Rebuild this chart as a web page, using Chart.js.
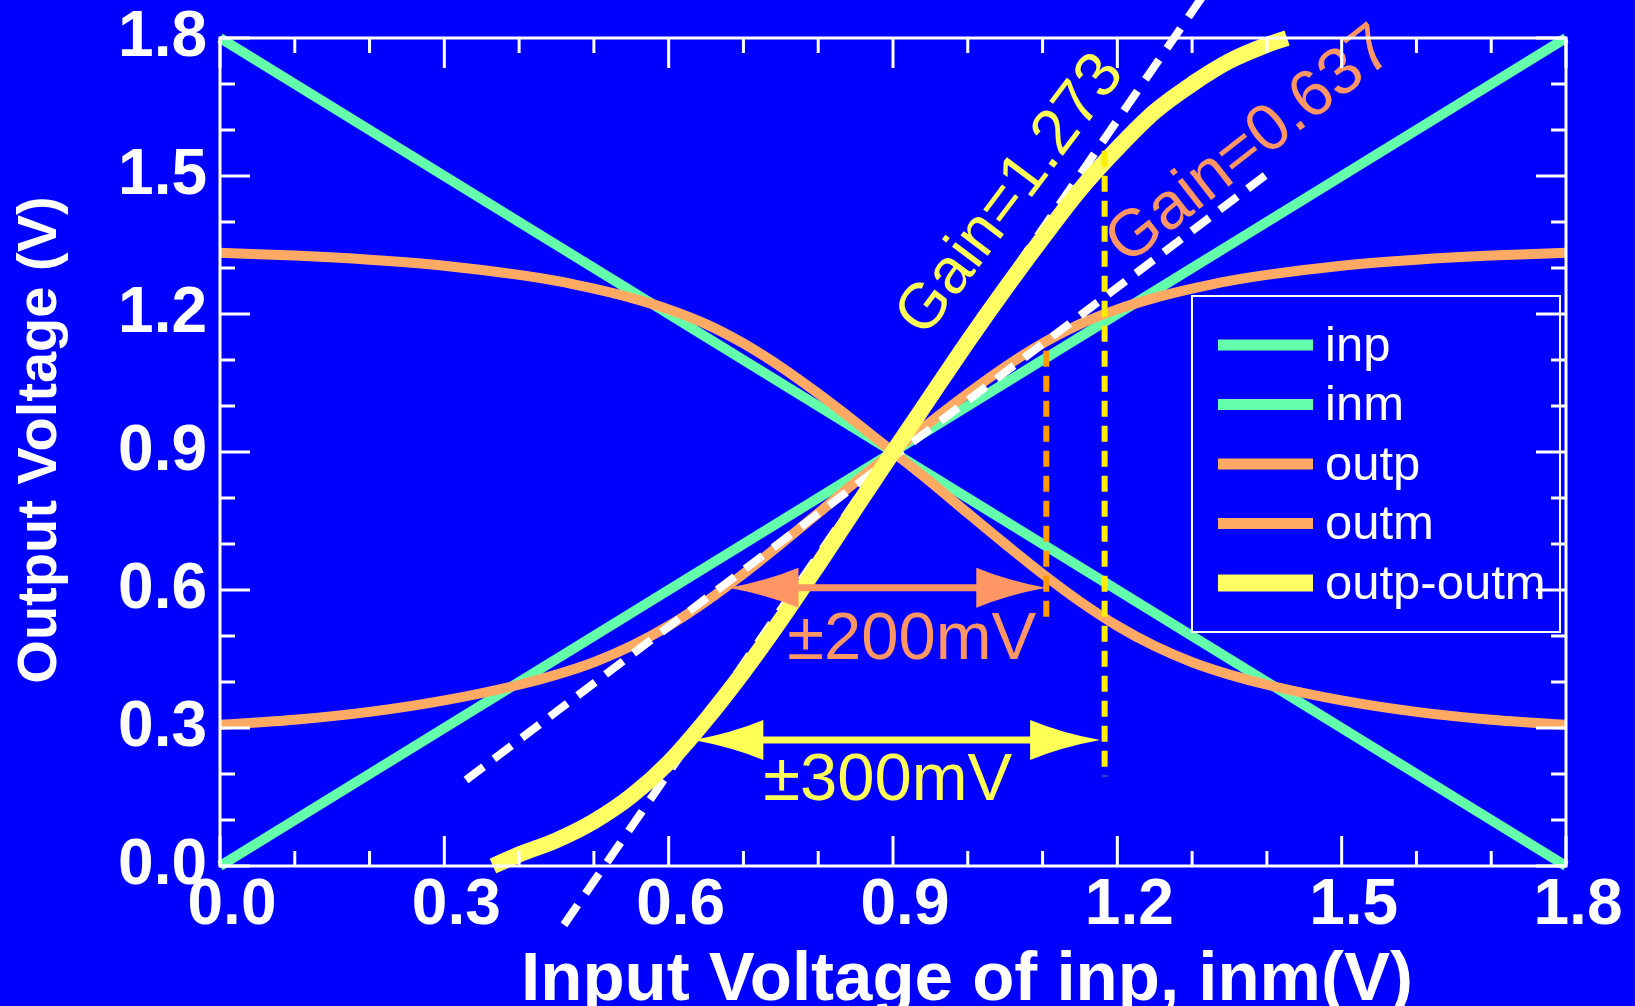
<!DOCTYPE html>
<html lang="en">
<head>
<meta charset="utf-8"/>
<script src="https://cdn.jsdelivr.net/npm/chart.js@4.4.1/dist/chart.umd.min.js"></script>
<style>
    html, body { margin: 0; padding: 0; background: #0000ff; }
    #wrap { width: 1635px; height: 1006px; }
</style>
</head>
<body>
<div id="wrap"><canvas id="chart"></canvas></div>
<script>
    // input sweep (V) and single ended outputs
    const vin  = [0, 0.1, 0.2, 0.3, 0.4, 0.45, 0.5, 0.55, 0.6, 0.65, 0.7, 0.75, 0.8, 0.85, 0.9,
                  0.95, 1.0, 1.05, 1.1, 1.15, 1.2, 1.25, 1.3, 1.35, 1.4, 1.5, 1.6, 1.7, 1.8];
    const outp = [0.307, 0.318, 0.335, 0.36, 0.394, 0.416, 0.443, 0.478, 0.522, 0.575, 0.635, 0.70, 0.767, 0.835, 0.9,
                  0.965, 1.027, 1.085, 1.136, 1.178, 1.21, 1.235, 1.255, 1.272, 1.285, 1.305, 1.318, 1.327, 1.333];
    const outm = [1.333, 1.327, 1.318, 1.305, 1.285, 1.272, 1.255, 1.235, 1.21, 1.178, 1.136, 1.085, 1.027, 0.965, 0.9,
                  0.835, 0.767, 0.70, 0.635, 0.575, 0.522, 0.478, 0.443, 0.416, 0.394, 0.36, 0.335, 0.318, 0.307];

    // straight inputs
    const vinEnds = [0, 1.8];
    const inp = [0, 1.8];
    const inm = [1.8, 0];

    // differential output (offset), only where it is inside the window
    const vinDiff = [0.365, 0.4, 0.45, 0.5, 0.55, 0.6, 0.65, 0.7, 0.75, 0.8, 0.85, 0.9, 0.95, 1.0, 1.05, 1.1, 1.15, 1.2, 1.25, 1.3, 1.35, 1.4, 1.427];
    const outDiff = [0.0, 0.025, 0.056, 0.097, 0.152, 0.225, 0.318, 0.422, 0.535, 0.655, 0.778, 0.9, 1.02, 1.14, 1.255, 1.365, 1.47, 1.56, 1.64, 1.70, 1.75, 1.785, 1.80];

    // tangent lines
    const steepX = [0.46, 1.318];
    const steepY = [-0.128, 1.9];
    const flatX = [0.329, 1.405];
    const flatY = [0.187, 1.51];

    // range markers
    const mark200X = [1.105, 1.105];
    const mark200Y = [1.12, 0.535];
    const mark300X = [1.183, 1.183];
    const mark300Y = [1.555, 0.195];
    const arrow200 = {x: [0.68, 1.105], y: 0.605};
    const arrow300 = {x: [0.633, 1.177], y: 0.274};

    const tickValues = [0, 0.3, 0.6, 0.9, 1.2, 1.5, 1.8];
    const minorValues = [0.1, 0.2, 0.4, 0.5, 0.7, 0.8, 1.0, 1.1, 1.3, 1.4, 1.6, 1.7];

    const xTitle = "Input Voltage of inp, inm(V)";
    const yTitle = "Output Voltage (V)";

    const notes = [
        {text: "Gain=1.273", x: 1.058, y: 1.458, rot: -53, color: "#ffff55", size: 64},
        {text: "Gain=0.637", x: 1.378, y: 1.565, rot: -38, color: "#ff9664", size: 66},
        {text: "\u00b1200mV", x: 0.925, y: 0.49, rot: 0, color: "#ff9664", size: 67},
        {text: "\u00b1300mV", x: 0.893, y: 0.183, rot: 0, color: "#ffff55", size: 67}
    ];

    const FONT = "'Liberation Sans', Arial, sans-serif";
    const GREEN = "#64ffaa", ORANGE = "#ffaa64", YELLOW = "#ffff64";

    function pts(xs, ys) {
        return xs.map((v, i) => ({x: v, y: ys[i]}));
    }

    function curve(label, xs, ys, color, width, order) {
        return {
            label: label, data: pts(xs, ys), borderColor: color, borderWidth: width,
            showLine: true, pointRadius: 0, cubicInterpolationMode: "monotone",
            clip: false, order: order, borderCapStyle: "butt"
        };
    }

    function dashed(xs, ys, color, width, dash, order) {
        return {
            label: "", data: pts(xs, ys), borderColor: color, borderWidth: width,
            borderDash: dash, showLine: true, pointRadius: 0, clip: false, order: order,
            legendSkip: true
        };
    }

    const datasets = [
        curve("inp", vinEnds, inp, GREEN, 10, 9),
        curve("inm", vinEnds, inm, GREEN, 10, 8),
        curve("outp", vin, outp, ORANGE, 10, 7),
        curve("outm", vin, outm, ORANGE, 10, 6),
        curve("outp-outm", vinDiff, outDiff, YELLOW, 16, 2),
        dashed(steepX, steepY, "#ffffff", 8, [24, 14], 4),
        dashed(flatX, flatY, "#ffffff", 8, [22, 13], 5),
        dashed(mark200X, mark200Y, "#ff9900", 6, [16, 9], 1),
        dashed(mark300X, mark300Y, "#ffee00", 6, [16, 9], 1)
    ];

    function arrowHead(ctx, tx, ty, dir, color) {
        // dir = +1 points right, -1 points left
        const len = 70, half = 20;
        ctx.fillStyle = color;
        ctx.beginPath();
        ctx.moveTo(tx, ty);
        ctx.quadraticCurveTo(tx - dir * len * 0.55, ty - half * 0.35, tx - dir * len, ty - half);
        ctx.lineTo(tx - dir * len, ty + half);
        ctx.quadraticCurveTo(tx - dir * len * 0.55, ty + half * 0.35, tx, ty);
        ctx.fill();
    }

    const decorations = {
        id: "decorations",
        beforeDraw(chart) {
            const ctx = chart.ctx;
            ctx.save();
            ctx.fillStyle = "#0000ff";
            ctx.fillRect(0, 0, chart.width, chart.height);
            ctx.restore();
        },
        afterDatasetsDraw(chart) {
            const {ctx, chartArea: a, scales: {x, y}} = chart;
            ctx.save();

            // double arrows
            [[arrow200, "#ff9664"], [arrow300, "#ffff55"]].forEach(([ar, col]) => {
                const x0 = x.getPixelForValue(ar.x[0]), x1 = x.getPixelForValue(ar.x[1]);
                const py = y.getPixelForValue(ar.y);
                ctx.strokeStyle = col;
                ctx.lineWidth = 7;
                ctx.beginPath();
                ctx.moveTo(x0 + 40, py);
                ctx.lineTo(x1 - 40, py);
                ctx.stroke();
                arrowHead(ctx, x0, py, -1, col);
                arrowHead(ctx, x1, py, 1, col);
            });

            // text notes
            notes.forEach(n => {
                ctx.save();
                ctx.translate(x.getPixelForValue(n.x), y.getPixelForValue(n.y));
                ctx.rotate(n.rot * Math.PI / 180);
                ctx.font = n.size + "px " + FONT;
                ctx.fillStyle = n.color;
                ctx.textAlign = "center";
                ctx.textBaseline = "middle";
                ctx.fillText(n.text, 0, 0);
                ctx.restore();
            });

            // legend box
            const bx = a.right - 374, by = a.top + 258, bw = 368, bh = 336;
            ctx.strokeStyle = "#ffffff";
            ctx.lineWidth = 2;
            ctx.strokeRect(bx, by, bw, bh);
            ctx.font = "49px " + FONT;
            ctx.textAlign = "left";
            ctx.textBaseline = "middle";
            chart.data.datasets.filter(d => !d.legendSkip).forEach((d, i) => {
                const ry = by + 49 + i * 59.5;
                ctx.strokeStyle = d.borderColor;
                ctx.lineWidth = d.borderWidth + 1;
                ctx.beginPath();
                ctx.moveTo(bx + 26, ry);
                ctx.lineTo(bx + 121, ry);
                ctx.stroke();
                ctx.fillStyle = "#ffffff";
                ctx.fillText(d.label, bx + 133, ry + 2);
            });

            // frame with inward ticks on all sides
            ctx.strokeStyle = "#ffffff";
            ctx.lineWidth = 3;
            ctx.strokeRect(a.left, a.top, a.right - a.left, a.bottom - a.top);
            ctx.beginPath();
            const tick = (v, len) => {
                const px = x.getPixelForValue(v), py = y.getPixelForValue(v);
                ctx.moveTo(px, a.bottom); ctx.lineTo(px, a.bottom - len);
                ctx.moveTo(px, a.top); ctx.lineTo(px, a.top + len);
                ctx.moveTo(a.left, py); ctx.lineTo(a.left + len, py);
                ctx.moveTo(a.right, py); ctx.lineTo(a.right - len, py);
            };
            tickValues.forEach(v => tick(v, 30));
            minorValues.forEach(v => tick(v, 15));
            ctx.stroke();

            // axis titles
            ctx.fillStyle = "#ffffff";
            ctx.font = "bold 69px " + FONT;
            ctx.textAlign = "center";
            ctx.textBaseline = "alphabetic";
            ctx.fillText(xTitle, (a.left + a.right) / 2 + 74, a.bottom + 134);
            ctx.translate(56, (a.top + a.bottom) / 2 - 12);
            ctx.rotate(-Math.PI / 2);
            ctx.font = "bold 56px " + FONT;
            ctx.fillText(yTitle, 0, 0);
            ctx.restore();
        }
    };

    const noPad = s => { s.paddingTop = 0; s.paddingBottom = 0; s.paddingLeft = 0; s.paddingRight = 0; };

    new Chart(document.getElementById("chart"), {
        type: "scatter",
        data: {datasets: datasets},
        options: {
            responsive: true,
            maintainAspectRatio: false,
            animation: false,
            layout: {padding: {top: 38, right: 69, left: 0, bottom: 0}},
            plugins: {legend: {display: false}, tooltip: {enabled: false}},
            scales: {
                x: {
                    type: "linear", min: 0, max: 1.8,
                    afterBuildTicks: s => { s.ticks = tickValues.map(v => ({value: v})); },
                    afterFit: s => { s.height = 140; noPad(s); },
                    grid: {display: false, drawTicks: false},
                    border: {display: false},
                    ticks: {
                        color: "#ffffff", padding: 2, labelOffset: 12,
                        font: {family: FONT, size: 64, weight: "bold"},
                        callback: v => v.toFixed(1)
                    }
                },
                y: {
                    type: "linear", min: 0, max: 1.8,
                    afterBuildTicks: s => { s.ticks = tickValues.map(v => ({value: v})); },
                    afterFit: s => { s.width = 220; noPad(s); },
                    grid: {display: false, drawTicks: false},
                    border: {display: false},
                    ticks: {
                        color: "#ffffff", padding: 13,
                        font: {family: FONT, size: 64, weight: "bold"},
                        callback: v => v.toFixed(1)
                    }
                }
            }
        },
        plugins: [decorations]
    });
</script>
</body>
</html>
